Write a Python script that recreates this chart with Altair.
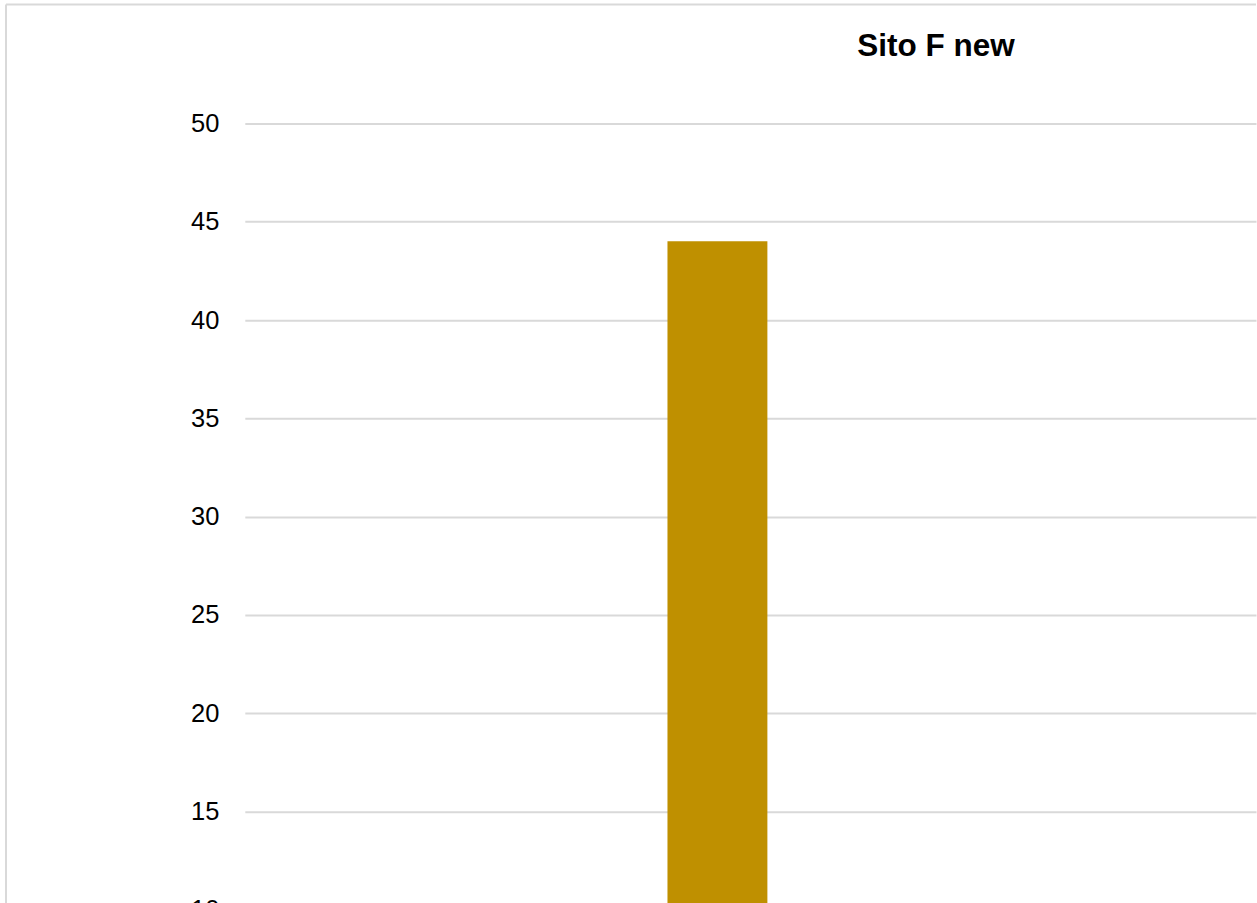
import altair as alt
import pandas as pd

categories = ["Sito F new"]
values = [44]
y_ticks = [0, 5, 10, 15, 20, 25, 30, 35, 40, 45, 50]
title_text = "Sito F new"

df = pd.DataFrame({"cat": categories, "val": values})

W = 1012
H = 984
FONT = "Liberation Sans"
GRID = "#d9d9d9"

bars = alt.Chart(df).mark_bar(width=100, color="#BF9000", xOffset=-33).encode(
    x=alt.X("cat:N",
            axis=alt.Axis(title=None, labelAngle=0, domainColor=GRID, domainWidth=2,
                          ticks=False, labelFontSize=25, labelFont=FONT, labelColor="#000000")),
    y=alt.Y("val:Q", scale=alt.Scale(domain=[0, 50], nice=False),
            axis=alt.Axis(values=y_ticks, title=None, domain=False, ticks=False,
                          gridColor=GRID, gridWidth=2, labelFontSize=25.5,
                          labelPadding=26, labelColor="#000000", labelFont=FONT)),
)

frame_top = alt.Chart(df).mark_rule(stroke=GRID, strokeWidth=2).encode(
    x=alt.value(-239), x2=alt.value(W), y=alt.value(-119)
)
frame_left = alt.Chart(df).mark_rule(stroke=GRID, strokeWidth=2).encode(
    x=alt.value(-239), y=alt.value(-119), y2=alt.value(H + 90)
)

chart = alt.layer(frame_top, frame_left, bars).properties(
    width=W, height=H,
    padding={"left": 5, "top": 3, "right": 0, "bottom": 5},
    title=alt.TitleParams(title_text, fontSize=31.5, font=FONT, fontWeight="bold",
                          anchor="start", frame="group", dx=613, offset=-59,
                          color="#000000"),
).configure_view(stroke=None)

chart.save("out.html", embed_options={"renderer": "svg", "actions": False})
